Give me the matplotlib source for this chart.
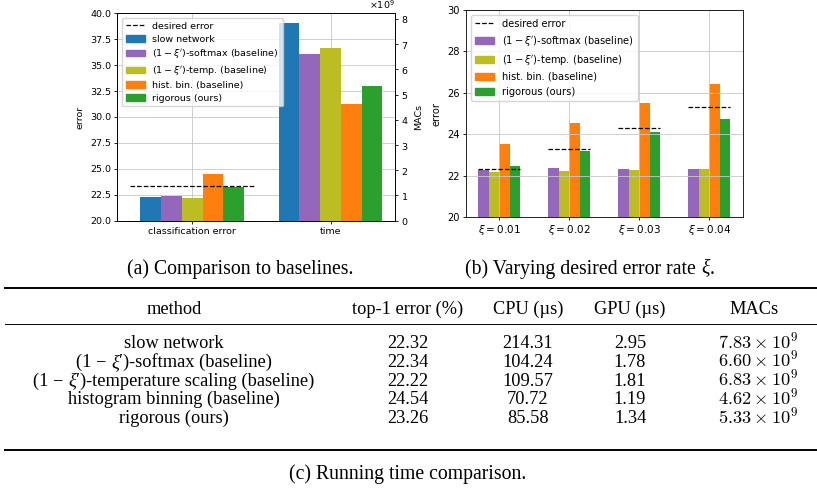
import matplotlib.pyplot as plt
from matplotlib.lines import Line2D
from matplotlib.patches import Patch
import numpy as np

# (a) comparison to baselines
methods = ['slow network', r"$(1-\xi')$-softmax (baseline)", r"$(1-\xi')$-temp. (baseline)",
           'hist. bin. (baseline)', 'rigorous (ours)']
colors = ['#1f77b4', '#9467bd', '#bcbd22', '#ff7f0e', '#2ca02c']
top1_error = [22.32, 22.34, 22.22, 24.54, 23.26]
macs = [7.83e9, 6.60e9, 6.83e9, 4.62e9, 5.33e9]
desired_error = 23.32
group_labels = ['classification error', 'time']

# (b) varying desired error rate
xi_labels = [r'$\xi=0.01$', r'$\xi=0.02$', r'$\xi=0.03$', r'$\xi=0.04$']
xi_desired = [22.3, 23.3, 24.3, 25.3]
xi_softmax = [22.29, 22.35, 22.30, 22.30]
xi_temp = [22.18, 22.22, 22.25, 22.30]
xi_hist = [23.53, 24.56, 25.50, 26.42]
xi_rigorous = [22.45, 23.19, 24.10, 24.73]

# (c) running time table; '|ξ|' marks the italic xi
table_header = ['method', 'top-1 error (%)', 'CPU (µs)', 'GPU (µs)', 'MACs']
table_methods = ['slow network', '(1 − |ξ|′)-softmax (baseline)',
                 '(1 − |ξ|′)-temperature scaling (baseline)',
                 'histogram binning (baseline)', 'rigorous (ours)']
table_top1 = ['22.32', '22.34', '22.22', '24.54', '23.26']
table_cpu = ['214.31', '104.24', '109.57', '70.72', '85.58']
table_gpu = ['2.95', '1.78', '1.81', '1.19', '1.34']
table_macs = [r'$7.83\times10^9$', r'$6.60\times10^9$', r'$6.83\times10^9$',
              r'$4.62\times10^9$', r'$5.33\times10^9$']

W, H = 817, 490
fs = 6.8
plt.rcParams.update({
    'font.size': fs,
    'axes.linewidth': 0.6,
    'xtick.major.size': 2.2, 'ytick.major.size': 2.2,
    'xtick.major.width': 0.6, 'ytick.major.width': 0.6,
    'xtick.major.pad': 2.2, 'ytick.major.pad': 2.2,
    'grid.linewidth': 0.6,
    'legend.fontsize': fs,
})


def fx(px):
    return px / W


def fy(px):
    return 1 - px / H


def rect(l, t, r, b):
    return [fx(l), fy(b), fx(r) - fx(l), fy(t) - fy(b)]


fig = plt.figure(figsize=(W / 100, H / 100), dpi=100)
renderer = fig.canvas.get_renderer()

# ---- panel (a)
ax1 = fig.add_axes(rect(117.3, 13.3, 395, 220.7))
ax2 = ax1.twinx()
width = 0.15
offs = (np.arange(len(methods)) - 2) * width
ax1.plot([-0.45, 0.45], [desired_error, desired_error], 'k--', lw=0.9)
for i in range(len(methods)):
    ax1.bar(0 + offs[i], top1_error[i] - 20, width, bottom=20, color=colors[i])
    ax2.bar(1 + offs[i], macs[i], width, color=colors[i])
ax1.set_ylim(20, 40)
ax1.set_yticks(np.arange(20, 40.1, 2.5))
ax1.set_xticks([0, 1])
ax1.set_xticklabels(group_labels)
ax1.set_axisbelow(True)
ax1.grid(True, color='#c8c8c8')
ax1.set_ylabel('error')
ax2.set_ylabel('MACs')
ax2.ticklabel_format(axis='y', style='sci', scilimits=(0, 0), useMathText=True)
handles = [Line2D([], [], color='k', ls='--', lw=0.9)] + [Patch(color=c) for c in colors]
ax2.legend(handles, ['desired error'] + methods, loc='upper left', labelspacing=0.4)

# ---- panel (b)
fsb = 7.1
ax3 = fig.add_axes(rect(465.7, 10, 742.7, 217))
xs = np.arange(len(xi_labels))
series = [xi_softmax, xi_temp, xi_hist, xi_rigorous]
offs_b = (np.arange(4) - 1.5) * width
for k, vals in enumerate(series):
    ax3.bar(xs + offs_b[k], np.array(vals) - 20, width, bottom=20, color=colors[k + 1])
for j in range(len(xs)):
    ax3.plot([xs[j] - 0.3, xs[j] + 0.3], [xi_desired[j]] * 2, 'k--', lw=0.9)
ax3.set_ylim(20, 30)
ax3.set_xticks(xs)
ax3.set_xticklabels(xi_labels, fontsize=fsb + 0.4)
ax3.tick_params(axis='y', labelsize=fsb)
ax3.grid(True, color='#c8c8c8')
ax3.set_ylabel('error', fontsize=fsb)
ax3.legend([Line2D([], [], color='k', ls='--', lw=0.9)] + [Patch(color=c) for c in colors[1:]],
           ['desired error'] + methods[1:], loc='upper left', fontsize=fsb)

# ---- captions and table
serif = ['Liberation Serif', 'DejaVu Serif']
tfs = 13.2
cfs = 14.2


def cell(xc, yb, s, size=tfs):
    # centred text; pieces between '|' are drawn in italic
    if '|' not in s:
        fig.text(fx(xc), fy(yb), s, family=serif, size=size, ha='center', va='baseline',
                 math_fontfamily='cm')
        return
    parts = s.split('|')
    texts = []
    for k, p in enumerate(parts):
        t = fig.text(0, fy(yb), p, family=serif, size=size, va='baseline',
                     style='italic' if k % 2 else 'normal')
        texts.append(t)
    widths = [t.get_window_extent(renderer).width for t in texts]
    x = xc - sum(widths) / 2
    for t, w in zip(texts, widths):
        t.set_x(fx(x))
        x += w


cell(240, 274, '(a) Comparison to baselines.', cfs)
cell(590, 274, '(b) Varying desired error rate |ξ|.', cfs)
cell(408, 479, '(c) Running time comparison.', cfs)

fig.add_artist(Line2D([fx(5), 1.0], [fy(288)] * 2, color='k', lw=1.4))
fig.add_artist(Line2D([fx(5), 1.0], [fy(324.5)] * 2, color='k', lw=0.7))
fig.add_artist(Line2D([fx(5), 1.0], [fy(450)] * 2, color='k', lw=1.4))

head_x = [174, 408, 528, 630, 754]
col_x = [174, 408, 528, 630, 758]
for c, label in enumerate(table_header):
    cell(head_x[c], 314, label)
columns = [table_methods, table_top1, table_cpu, table_gpu, table_macs]
for r in range(len(table_methods)):
    yb = 348 + 18.75 * r
    for c, col in enumerate(columns):
        cell(col_x[c], yb, col[r])

fig.savefig('out.png', dpi=100)
